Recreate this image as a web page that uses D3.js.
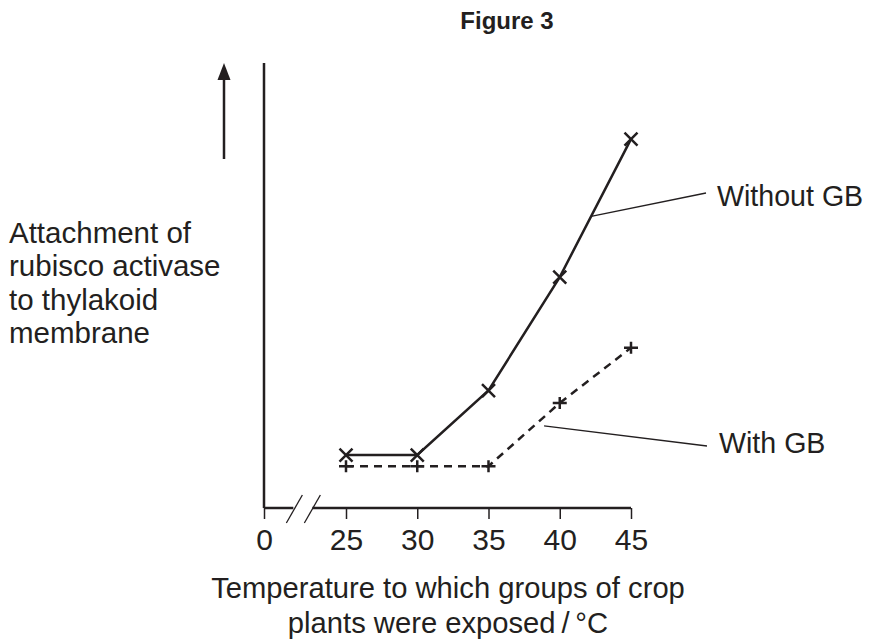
<!DOCTYPE html>
<html>
<head>
<meta charset="utf-8">
<script src="https://cdn.jsdelivr.net/npm/d3@7"></script>
<style>
  body { margin: 0; background: #fff; }
  svg { display: block; font-family: 'Liberation Sans', Arial, sans-serif; }
</style>
</head>
<body>
<svg id="chart" width="870" height="643"></svg>
<script>
// temperatures (°C) and relative attachment (arbitrary units, no scale on the axis)
const temps = [25, 30, 35, 40, 45];
const withoutGB = [11.9, 11.9, 26.4, 51.9, 82.9];
const withGB = [9.4, 9.4, 9.4, 23.6, 36.0];
const tickTemps = [0, 25, 30, 35, 40, 45];

const ink = '#231f20';
const svg = d3.select('#chart');

// broken axis: 0 sits on its own, 25-45 spread out
const x = d3.scaleLinear().domain([0, 25, 45]).range([264, 346, 631]);
const y = d3.scaleLinear().domain([0, 100]).range([508, 63]);

// title
svg.append('text')
  .attr('x', 507).attr('y', 29)
  .attr('text-anchor', 'middle')
  .attr('font-size', 24).attr('font-weight', 700)
  .attr('fill', ink)
  .text('Figure 3');

// y axis line
svg.append('line')
  .attr('x1', x(0)).attr('x2', x(0))
  .attr('y1', y(100)).attr('y2', y(0))
  .attr('stroke', ink).attr('stroke-width', 2.5);

// arrow to the left of the axis
svg.append('line')
  .attr('x1', 224).attr('x2', 224)
  .attr('y1', 159).attr('y2', 78)
  .attr('stroke', ink).attr('stroke-width', 2.5);
svg.append('path')
  .attr('d', 'M224,63 L230.5,80 L217.5,80 Z')
  .attr('fill', ink);

// x axis with ticks
const xAxis = d3.axisBottom(x)
  .tickValues(tickTemps)
  .tickSize(11)
  .tickPadding(10)
  .tickFormat(d3.format('d'));
const gx = svg.append('g')
  .attr('transform', `translate(0,${y(0)})`)
  .call(xAxis);
gx.select('.domain').remove();
gx.selectAll('.tick line').attr('stroke', ink).attr('stroke-width', 1.5);
gx.selectAll('.tick text')
  .attr('font-size', 30)
  .attr('font-family', "'Liberation Sans', Arial, sans-serif")
  .attr('fill', ink);

// baseline with a break between 0 and 25
const brk = x(12);
[[x(0), brk - 10], [brk + 9, x(45)]].forEach(([a, b]) => {
  svg.append('line')
    .attr('x1', a).attr('x2', b)
    .attr('y1', y(0)).attr('y2', y(0))
    .attr('stroke', ink).attr('stroke-width', 2.5);
});
[-9, 9].forEach(off => {
  svg.append('line')
    .attr('x1', brk + off - 8).attr('y1', y(0) + 15)
    .attr('x2', brk + off + 8).attr('y2', y(0) - 13)
    .attr('stroke', ink).attr('stroke-width', 1.3);
});

// series lines
const line = d3.line().x(d => x(d[0])).y(d => y(d[1]));
const seriesWithout = temps.map((t, i) => [t, withoutGB[i]]);
const seriesWith = temps.map((t, i) => [t, withGB[i]]);

svg.append('path')
  .datum(seriesWithout)
  .attr('d', line)
  .attr('fill', 'none')
  .attr('stroke', ink).attr('stroke-width', 2.5);

svg.append('path')
  .datum(seriesWith)
  .attr('d', line)
  .attr('fill', 'none')
  .attr('stroke', ink).attr('stroke-width', 2.5)
  .attr('stroke-dasharray', '8,6');

// markers: crosses for without GB, pluses for with GB
svg.append('g').selectAll('path')
  .data(seriesWithout)
  .join('path')
  .attr('d', d => {
    const cx = x(d[0]), cy = y(d[1]), r = 6.5;
    return `M${cx - r},${cy - r}L${cx + r},${cy + r}M${cx - r},${cy + r}L${cx + r},${cy - r}`;
  })
  .attr('stroke', ink).attr('stroke-width', 2.5);

svg.append('g').selectAll('path')
  .data(seriesWith)
  .join('path')
  .attr('d', d => {
    const cx = x(d[0]), cy = y(d[1]);
    return `M${cx - 7},${cy}L${cx + 7},${cy}M${cx},${cy - 6}L${cx},${cy + 6}`;
  })
  .attr('stroke', ink).attr('stroke-width', 2.5);

// labels with leader lines
const lerp = (s, t) => {
  const i = d3.bisectLeft(temps, t);
  const k = (t - temps[i - 1]) / (temps[i] - temps[i - 1]);
  return s[i - 1][1] + k * (s[i][1] - s[i - 1][1]);
};
svg.append('line')
  .attr('x1', x(42.2)).attr('y1', y(lerp(seriesWithout, 42.2)))
  .attr('x2', 706).attr('y2', 193)
  .attr('stroke', ink).attr('stroke-width', 1.3);
svg.append('text')
  .attr('x', 717).attr('y', 206)
  .attr('font-size', 28.6).attr('fill', ink)
  .text('Without GB');

svg.append('line')
  .attr('x1', x(38.9)).attr('y1', y(lerp(seriesWith, 38.9)) + 9)
  .attr('x2', 707).attr('y2', 446)
  .attr('stroke', ink).attr('stroke-width', 1.3);
svg.append('text')
  .attr('x', 719).attr('y', 453)
  .attr('font-size', 28.6).attr('fill', ink)
  .text('With GB');

// y axis label
const yLabel = ['Attachment of', 'rubisco activase', 'to thylakoid', 'membrane'];
svg.append('text')
  .attr('font-size', 29.5).attr('fill', ink)
  .selectAll('tspan')
  .data(yLabel)
  .join('tspan')
  .attr('x', 9)
  .attr('y', (d, i) => 243 + i * 33.3)
  .text(d => d);

// x axis title
const xLabel = ['Temperature to which groups of crop', 'plants were exposed\u2009/\u2009°C'];
svg.append('text')
  .attr('font-size', 29.2).attr('fill', ink)
  .attr('text-anchor', 'middle')
  .selectAll('tspan')
  .data(xLabel)
  .join('tspan')
  .attr('x', 448)
  .attr('y', (d, i) => 598 + i * 35)
  .text(d => d);
</script>
</body>
</html>
